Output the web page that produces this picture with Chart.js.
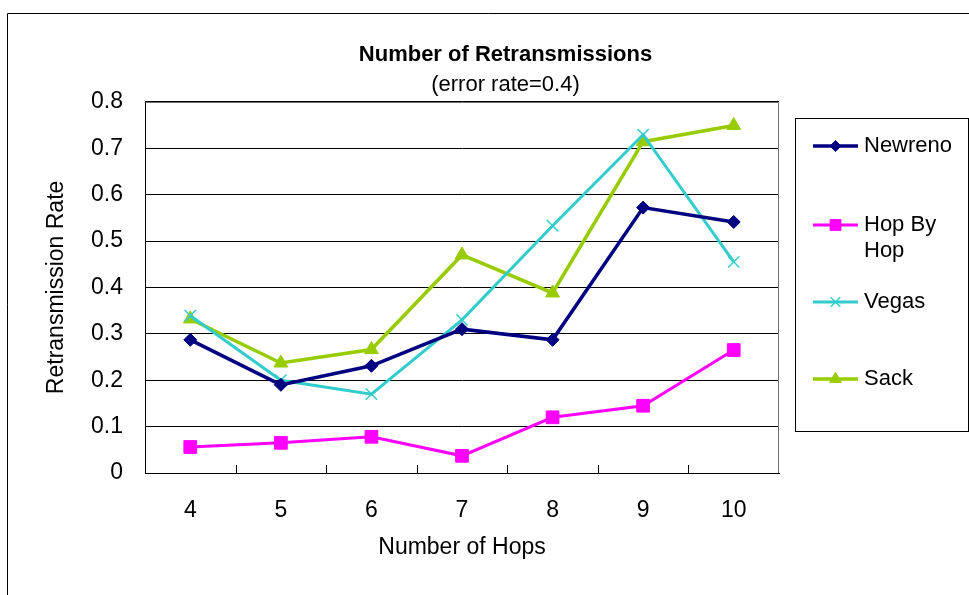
<!DOCTYPE html>
<html>
<head>
<meta charset="utf-8">
<script src="https://cdn.jsdelivr.net/npm/chart.js@4/dist/chart.umd.min.js"></script>
<style>
html,body{margin:0;padding:0;background:#fff;}
#wrap{width:969px;height:595px;position:relative;}
</style>
</head>
<body>
<div id="wrap"><canvas id="c" width="969" height="595"></canvas></div>
<script>
// ---- data ----
const hops = ['4', '5', '6', '7', '8', '9', '10'];
const newreno = [0.287, 0.19, 0.231, 0.31, 0.287, 0.572, 0.541];
const hopByHop = [0.056, 0.065, 0.078, 0.037, 0.12, 0.145, 0.265];
const vegas = [0.339, 0.2, 0.17, 0.33, 0.533, 0.729, 0.455];
const sack = [0.332, 0.237, 0.266, 0.47, 0.388, 0.714, 0.749];
const yTickLabels = ['0', '0.1', '0.2', '0.3', '0.4', '0.5', '0.6', '0.7', '0.8'];
const seriesNames = ['Newreno', 'Hop By Hop', 'Vegas', 'Sack'];

const FONT = "'Liberation Sans', Arial, sans-serif";

// frame, inward ticks, and custom legend
const decor = {
  id: 'decor',
  beforeDraw(chart) {
    const ctx = chart.ctx;
    ctx.save();
    ctx.fillStyle = '#fff';
    ctx.fillRect(0, 0, chart.width, chart.height);
    ctx.strokeStyle = '#000';
    ctx.lineWidth = 1;
    ctx.beginPath();
    ctx.moveTo(7.5, 600); ctx.lineTo(7.5, 13.5); ctx.lineTo(1000, 13.5);
    ctx.stroke();
    ctx.restore();
  },
  afterDatasetsDraw(chart) {
    const ctx = chart.ctx;
    const a = chart.chartArea;
    const xs = chart.scales.x;
    ctx.save();
    // plot frame top/right
    ctx.strokeStyle = '#707070';
    ctx.lineWidth = 1;
    ctx.beginPath();
    ctx.moveTo(Math.round(a.left) + 0.5, Math.round(a.top) + 0.5);
    ctx.lineTo(Math.round(a.right) - 0.5, Math.round(a.top) + 0.5);
    ctx.lineTo(Math.round(a.right) - 0.5, Math.round(a.bottom));
    ctx.stroke();
    // inward tick marks between categories
    ctx.strokeStyle = '#000';
    const n = hops.length;
    ctx.beginPath();
    for (let i = 1; i < n; i++) {
      const x = Math.round((xs.getPixelForValue(i - 1) + xs.getPixelForValue(i)) / 2) + 0.5;
      ctx.moveTo(x, a.bottom);
      ctx.lineTo(x, a.bottom - 8);
    }
    ctx.stroke();
    ctx.restore();
  },
  afterDraw(chart) {
    const ctx = chart.ctx;
    ctx.save();
    // legend box
    ctx.strokeStyle = '#000';
    ctx.lineWidth = 1;
    ctx.strokeRect(795.5, 118.5, 173, 313);
    const rows = [[146], [225, 251], [302], [379]];
    const textLines = [['Newreno'], ['Hop By', 'Hop'], ['Vegas'], ['Sack']];
    chart.data.datasets.forEach((ds, i) => {
      const y = rows[i][0];
      ctx.strokeStyle = ds.borderColor;
      ctx.lineWidth = ds.borderWidth;
      ctx.beginPath();
      ctx.moveTo(813, y); ctx.lineTo(858, y);
      ctx.stroke();
      ctx.fillStyle = ds.pointBackgroundColor;
      ctx.strokeStyle = ds.pointBorderColor;
      ctx.lineWidth = ds.pointBorderWidth;
      Chart.helpers.drawPoint(ctx, {
        pointStyle: ds.pointStyle, radius: ds.pointRadius * 0.85,
        rotation: 0, borderWidth: ds.pointBorderWidth
      }, 835.5, y);
      ctx.fillStyle = '#000';
      ctx.font = '22px ' + FONT;
      ctx.textAlign = 'left';
      ctx.textBaseline = 'middle';
      textLines[i].forEach((t, k) => ctx.fillText(t, 864, rows[i][k]));
    });
    ctx.restore();
  }
};

const mk = (label, data, color, style, radius, pbw, bw) => ({
  label, data,
  borderColor: color, backgroundColor: color,
  borderWidth: bw,
  pointStyle: style, pointRadius: radius, pointHoverRadius: radius,
  pointBackgroundColor: color, pointBorderColor: color, pointBorderWidth: pbw,
  tension: 0, fill: false, clip: false
});

new Chart(document.getElementById('c'), {
  type: 'line',
  data: {
    labels: hops,
    datasets: [
      mk(seriesNames[0], newreno, '#000080', 'rectRot', 6.5, 1, 3.5),
      mk(seriesNames[1], hopByHop, '#FF00FF', 'rect', 9, 1, 3),
      mk(seriesNames[2], vegas, '#33CCCC', 'crossRot', 8, 1.5, 3),
      mk(seriesNames[3], sack, '#99CC00', 'triangle', 8, 1, 3.5)
    ]
  },
  options: {
    responsive: false,
    devicePixelRatio: 1,
    animation: false,
    layout: { padding: { left: 42, right: 0, top: 0, bottom: 0 } },
    plugins: {
      legend: { display: false },
      tooltip: { enabled: false },
      title: {
        display: true,
        text: 'Number of Retransmissions',
        color: '#000',
        font: { family: FONT, size: 22, weight: 'bold', lineHeight: 1.2 },
        padding: { top: 42, bottom: 0 }
      },
      subtitle: {
        display: true,
        text: '(error rate=0.4)',
        color: '#000',
        font: { family: FONT, size: 22, weight: 'normal', lineHeight: 1.2 },
        padding: { top: 3, bottom: 4 }
      }
    },
    scales: {
      x: {
        type: 'category',
        offset: true,
        grid: { display: false, drawTicks: false },
        border: { display: true, color: '#000', width: 1 },
        ticks: { color: '#000', padding: 24, font: { family: FONT, size: 23 }, maxRotation: 0 },
        title: {
          display: true, text: 'Number of Hops', color: '#000',
          font: { family: FONT, size: 23 }, padding: { top: 0, bottom: 34 }
        },
        afterFit(s) { s.height = 122; }
      },
      y: {
        min: 0, max: 0.8,
        grid: { color: '#000', lineWidth: 1, drawTicks: false },
        border: { display: true, color: '#000', width: 1 },
        ticks: {
          stepSize: 0.1, color: '#000', padding: 22,
          font: { family: FONT, size: 23 },
          callback: (v, i) => yTickLabels[i]
        },
        title: {
          display: true, text: 'Retransmission Rate', color: '#000',
          font: { family: FONT, size: 23 }, padding: { top: 1, bottom: 0 }
        },
        afterFit(s) { s.width = 103; }
      },
      y2: {
        type: 'linear', position: 'right', display: true,
        grid: { display: false, drawTicks: false },
        border: { display: false },
        ticks: { display: false },
        afterFit(s) { s.width = 190; }
      }
    }
  },
  plugins: [decor]
});
</script>
</body>
</html>
